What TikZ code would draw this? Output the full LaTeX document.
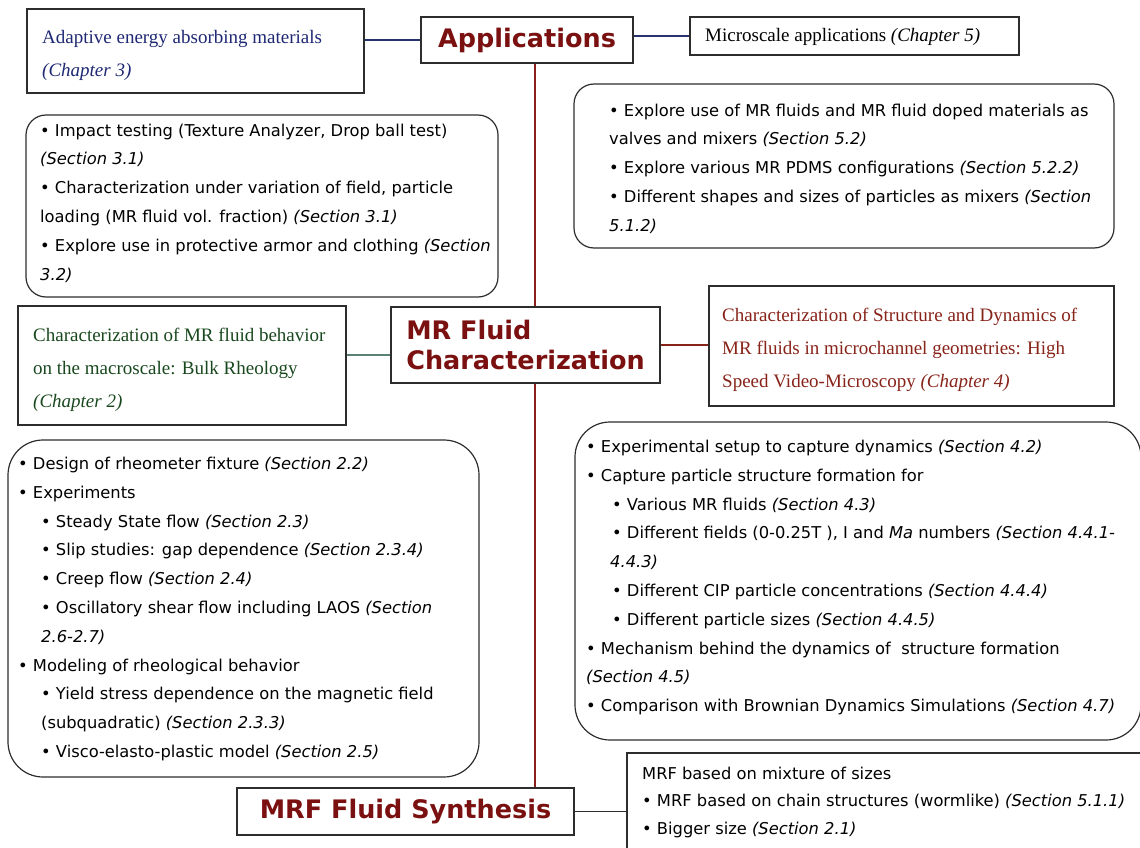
\documentclass[tikz,border=0pt]{standalone}
\usepackage{fontspec}
\setmainfont{Liberation Serif}
\newfontfamily\verd{DejaVu Sans}
\usepackage{xcolor}

\definecolor{headred}{RGB}{122,16,16}
\definecolor{navyline}{RGB}{40,50,110}
\definecolor{navytext}{RGB}{30,40,115}
\definecolor{greentext}{RGB}{25,72,30}
\definecolor{greenline}{RGB}{90,130,115}
\definecolor{structred}{RGB}{135,35,25}
\definecolor{spinered}{RGB}{140,30,30}
\definecolor{boxgray}{RGB}{45,45,45}

\newcommand{\bul}{\textbullet\ }
\newcommand{\secn}[1]{\textit{(Section #1)}}

\begin{document}
\begin{tikzpicture}[x=1pt, y=-1pt,
    sqbox/.style={draw=boxgray, line width=1.2pt, inner sep=0pt},
    rbox/.style={draw=boxgray, line width=1.2pt, rounded corners=20pt, inner sep=0pt},
    head/.style={sqbox, text=headred, align=left, font=\verd\bfseries\fontsize{25.5}{30}\selectfont},
    sertext/.style={anchor=west, align=left, inner sep=0pt, font=\fontsize{19}{33}\selectfont},
    santext/.style={anchor=west, align=left, inner sep=0pt, font=\verd\fontsize{16.3}{28.8}\selectfont}]
    \useasboundingbox (0,0) rectangle (1140,848);

    % upper row
    \node[sqbox, minimum width=337, minimum height=84] (adapt) at (195.5,51) {};
    \node[sertext, text=navytext] (adapttxt) at (42,55) {Adaptive energy absorbing materials\\\textit{(Chapter 3)}};
    \node[head, minimum width=212, minimum height=46] (app) at (527,40) {Applications};
    \node[sqbox, minimum width=329, minimum height=38] (micro) at (854.5,36) {};
    \node[sertext] (microtxt) at (705,37) {Microscale applications \textit{(Chapter 5)}};

    \node[rbox, minimum width=472, minimum height=182] (impact) at (262,206) {};
    \node[santext] (impacttxt) at (40,203) {\bul Impact testing (Texture Analyzer, Drop ball test)\\\secn{3.1}\\\bul Characterization under variation of field, particle\\loading (MR fluid vol. fraction) \secn{3.1}\\\bul Explore use in protective armor and clothing \textit{(Section}\\\textit{3.2)}};
    \node[rbox, minimum width=540, minimum height=164] (valves) at (844,166) {};
    \node[santext] (valvestxt) at (609,168.5) {\bul Explore use of MR fluids and MR fluid doped materials as\\valves and mixers \secn{5.2}\\\bul Explore various MR PDMS configurations \secn{5.2.2}\\\bul Different shapes and sizes of particles as mixers \textit{(Section}\\\textit{5.1.2)}};

    % middle row
    \node[sqbox, minimum width=328, minimum height=119] (bulk) at (182,365.5) {};
    \node[sertext, text=greentext] (bulktxt) at (33,370) {Characterization of MR fluid behavior\\on the macroscale: Bulk Rheology\\\textit{(Chapter 2)}};
    \node[head, minimum width=269, minimum height=76] (mr) at (525.5,345) {MR Fluid\\Characterization};
    \node[sqbox, minimum width=405, minimum height=120] (struct) at (911.5,346) {};
    \node[sertext, text=structred] (structtxt) at (722,350) {Characterization of Structure and Dynamics of\\MR fluids in microchannel geometries: High\\Speed Video-Microscopy \textit{(Chapter 4)}};

    \node[rbox, rounded corners=35pt, minimum width=471, minimum height=337] (rheo) at (243.5,608.5) {};
    \node[santext] (rheotxt) at (18,609) {\bul Design of rheometer fixture \secn{2.2}\\\bul Experiments\\
        \hspace*{23pt}\bul Steady State flow \secn{2.3}\\
        \hspace*{23pt}\bul Slip studies: gap dependence \secn{2.3.4}\\
        \hspace*{23pt}\bul Creep flow \secn{2.4}\\
        \hspace*{23pt}\bul Oscillatory shear flow including LAOS \textit{(Section}\\
        \hspace*{23pt}\textit{2.6-2.7)}\\
        \bul Modeling of rheological behavior\\
        \hspace*{23pt}\bul Yield stress dependence on the magnetic field\\
        \hspace*{23pt}(subquadratic) \secn{2.3.3}\\
        \hspace*{23pt}\bul Visco-elasto-plastic model \secn{2.5}};
    \node[rbox, rounded corners=35pt, minimum width=566, minimum height=318] (video) at (858,581) {};
    \node[santext] (videotxt) at (586,577.5) {\bul Experimental setup to capture dynamics \secn{4.2}\\\bul Capture particle structure formation for\\
        \hspace*{26pt}\bul Various MR fluids \secn{4.3}\\
        \hspace*{26pt}\bul Different fields (0-0.25T ), I and \textit{Ma} numbers \textit{(Section 4.4.1-}\\
        \hspace*{24pt}\textit{4.4.3)}\\
        \hspace*{26pt}\bul Different CIP particle concentrations \secn{4.4.4}\\
        \hspace*{26pt}\bul Different particle sizes \secn{4.4.5}\\
        \bul Mechanism behind the dynamics of\ \ structure formation\\
        \secn{4.5}\\
        \bul Comparison with Brownian Dynamics Simulations \secn{4.7}};

    % bottom row
    \node[head, minimum width=337, minimum height=47] (mrf) at (405.5,811.5) {MRF Fluid Synthesis};
    \node[sqbox, minimum width=523, minimum height=99] (sizes) at (888.5,802.5) {};
    \node[santext, font=\verd\fontsize{16.3}{27.5}\selectfont] (sizestxt) at (642,802) {MRF based on mixture of sizes\\\bul MRF based on chain structures (wormlike) \secn{5.1.1}\\\bul Bigger size \secn{2.1}};

    % connectors
    \coordinate (spine) at (535,0);
    \draw[navyline, line width=1.2pt] (app.west) -- (app.west -| adapt.east);
    \draw[navyline, line width=1.2pt] (micro.west) -- (micro.west -| app.east);
    \draw[greenline, line width=1.2pt] ([yshift=-10pt]mr.west) -- ([yshift=-10pt]mr.west -| bulk.east);
    \draw[structred, line width=1.2pt] (mr.east) -- (mr.east -| struct.west);
    \draw[boxgray, line width=1pt] (mrf.east) -- (mrf.east -| sizes.west);
    \draw[spinered, line width=1.2pt] (spine |- app.south) -- (spine |- mr.north);
    \draw[spinered, line width=1.2pt] (spine |- mr.south) -- (spine |- mrf.north);
\end{tikzpicture}
\end{document}
